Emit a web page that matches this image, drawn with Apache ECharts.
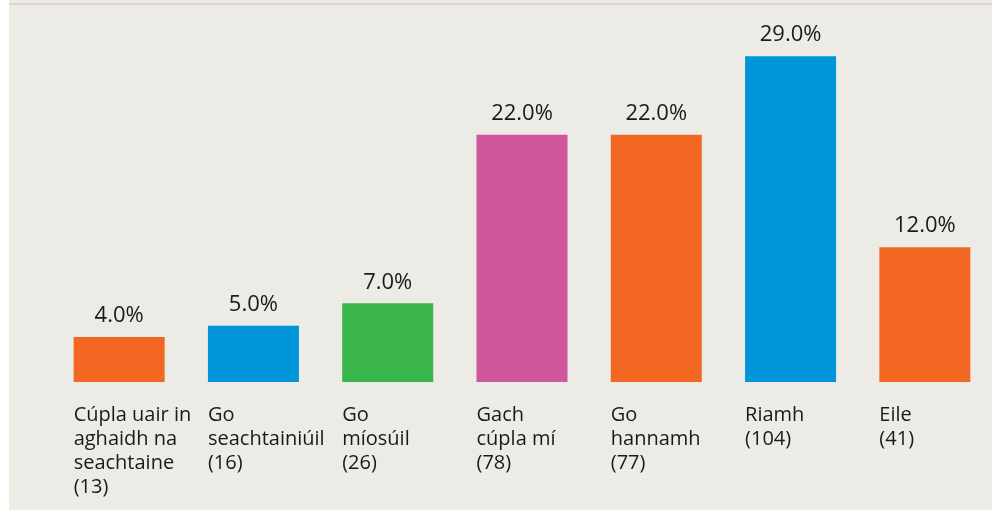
<!DOCTYPE html>
<html>
<head>
<meta charset="utf-8">
<script src="https://cdn.jsdelivr.net/npm/echarts@6/dist/echarts.min.js"></script>
<style>
  html, body { margin: 0; padding: 0; background: #fff; }
  #chart { position: absolute; left: 9px; top: 0; width: 983px; height: 510px; background: #ECEBE6; }
  #topline { position: absolute; left: 9px; top: 3px; width: 983px; height: 2px; background: #DCD6CB; }
</style>
</head>
<body>
<div id="chart"></div>
<div id="topline"></div>
<script>
// categories (Irish answers) and respondent counts
var categories = ['Cúpla uair in\naghaidh na\nseachtaine', 'Go\nseachtainiúil', 'Go\nmíosúil', 'Gach\ncúpla mí', 'Go\nhannamh', 'Riamh', 'Eile'];
var counts = [13, 16, 26, 78, 77, 104, 41];
var percents = [4.0, 5.0, 7.0, 22.0, 22.0, 29.0, 12.0];
var colors = ['#F26722', '#0095D9', '#3AB54A', '#D0569E', '#F26722', '#0095D9', '#F26722'];

var chart = echarts.init(document.getElementById('chart'));

var labels = [];
for (var i = 0; i < categories.length; i++) {
    labels.push(categories[i] + '\n(' + counts[i] + ')');
}

var option = {
    animation: false,
    grid: { left: 43, right: 0, top: 45, bottom: 128 },
    xAxis: {
        type: 'category',
        data: labels,
        axisLine: { show: false },
        axisTick: { show: false },
        axisLabel: {
            interval: 0,
            margin: 21,
            width: 91,
            align: 'center',
            formatter: function (v) {
                return v.split('\n').map(function (s) { return '{a|' + s + '}'; }).join('\n');
            },
            rich: {
                a: {
                    align: 'left',
                    fontFamily: 'Open Sans',
                    fontSize: 20,
                    lineHeight: 24,
                    color: '#1a1a1a'
                }
            }
        }
    },
    yAxis: {
        type: 'value',
        min: 0,
        max: 30,
        show: false
    },
    series: [{
        type: 'bar',
        barWidth: 91,
        data: percents.map(function (v, i) {
            return { value: v, itemStyle: { color: colors[i] } };
        }),
        label: {
            show: true,
            position: 'top',
            distance: 10,
            fontFamily: 'Open Sans',
            fontSize: 22,
            color: '#1a1a1a',
            formatter: function (p) { return p.value.toFixed(1) + '%'; }
        }
    }]
};
chart.setOption(option);
</script>
</body>
</html>
